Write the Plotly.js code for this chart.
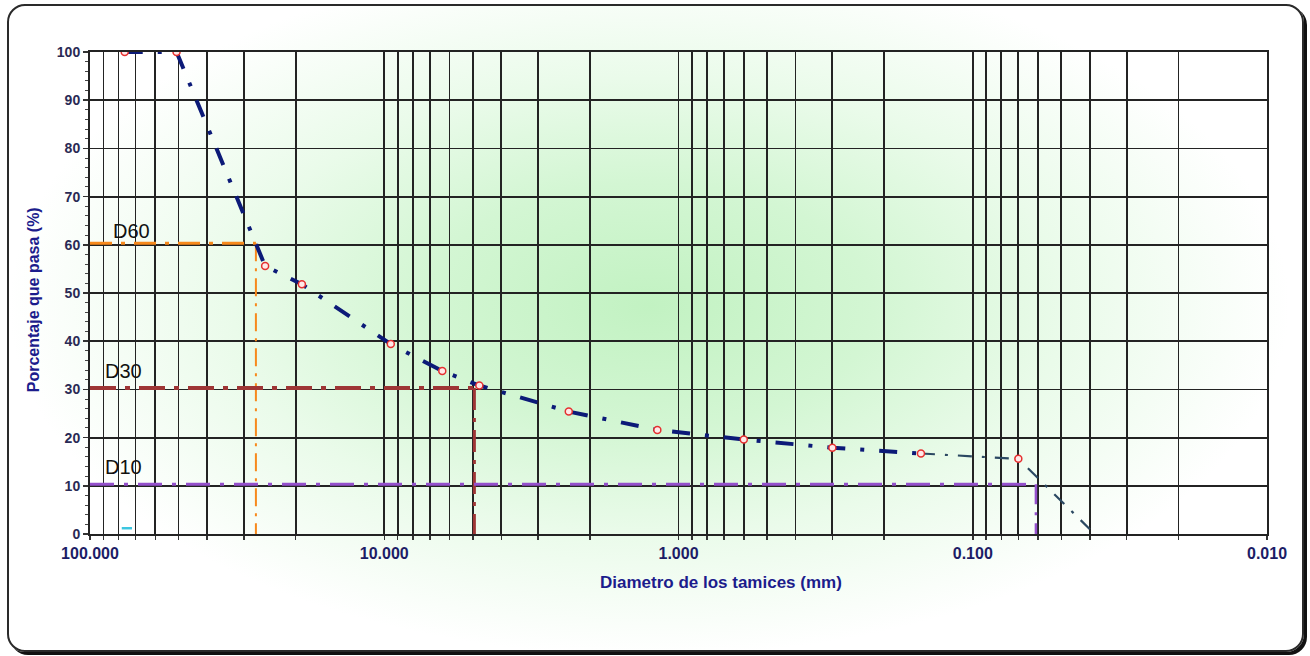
<!DOCTYPE html>
<html>
<head>
<meta charset="utf-8">
<script src="https://cdn.plot.ly/plotly-3.0.1.min.js"></script>
<style>
  html, body { margin: 0; padding: 0; width: 1310px; height: 656px; background: #ffffff; overflow: hidden; }
  #frame {
    position: absolute; left: 7px; top: 4px; width: 1293px; height: 644px;
    border: 2px solid #2a2a2a; border-radius: 18px;
    box-shadow: 3px 3px 0 #111;
    background: radial-gradient(ellipse 640px 350px at 640px 300px, #c2f2c2 0%, #d3f6d3 35%, #eafbea 65%, #ffffff 100%);
  }
  #chart { position: absolute; left: 0; top: 0; width: 1310px; height: 656px; }
</style>
</head>
<body>
<div id="frame"></div>
<div id="chart"></div>
<script>
// Sieve analysis (granulometric curve)
const sieveMm   = [76.2, 50.8, 25.4, 19.05, 9.5, 6.35, 4.75, 2.36, 1.18, 0.6, 0.3, 0.15];
const passing   = [100, 100, 55.6, 51.8, 39.4, 33.8, 30.8, 25.4, 21.6, 19.6, 17.9, 16.7];
const tailMm    = [0.15, 0.07, 0.04];
const tailPass  = [16.7, 15.6, 1.0];
const markerMm  = [76.2, 50.8, 25.4, 19.05, 9.5, 6.35, 4.75, 2.36, 1.18, 0.6, 0.3, 0.15, 0.07];
const markerPass= [100, 100, 55.6, 51.8, 39.4, 33.8, 30.8, 25.4, 21.6, 19.6, 17.9, 16.7, 15.6];

const dLabels   = ["D60", "D30", "D10"];
const dPercent  = [60.3, 30.3, 10.3];
const dDiameter = [27.3, 4.94, 0.061];
const dColors   = ["#f7891c", "#9e3535", "#9450cc"];

const cyanMm    = [78, 72];
const cyanPass  = [1.2, 1.2];

const decadeVals   = [100, 10, 1, 0.1, 0.01];
const decadeLabels = ["100.000", "10.000", "1.000", "0.100", "0.010"];
const minorMult    = [2, 3, 4, 5, 6, 7, 8, 9];

// tick/grid positions: every decade plus its 2..9 multiples
const tickVals = [], tickText = [];
decadeVals.forEach((v, i) => {
  tickVals.push(v); tickText.push(decadeLabels[i]);
  if (v < 100) minorMult.forEach(m => { tickVals.push(v * m); tickText.push(""); });
});

const traces = [];
const xLeft = 100;
const hDash = ["22px,9px,4px,9px", "26px,9px,5px,9px", "24px,10px,4px,10px"];
const vDash = ["18px,7px,3px,7px", "22px,8px,4px,8px", "20px,8px,3px,8px"];
const hW = [3, 4, 3];
const vW = [2, 3, 2.5];
for (let i = 0; i < dLabels.length; i++) {
  traces.push({ x: [xLeft, dDiameter[i]], y: [dPercent[i], dPercent[i]], mode: "lines",
    line: { color: dColors[i], width: hW[i], dash: hDash[i] }, hoverinfo: "skip", showlegend: false });
  traces.push({ x: [dDiameter[i], dDiameter[i]], y: [dPercent[i], 0], mode: "lines",
    line: { color: dColors[i], width: vW[i], dash: vDash[i] }, hoverinfo: "skip", showlegend: false });
}
traces.push({ x: cyanMm, y: cyanPass, mode: "lines", line: { color: "#3cc6e0", width: 2.5 }, showlegend: false });
traces.push({ x: tailMm, y: tailPass, mode: "lines",
  line: { color: "#2b4862", width: 2.2, dash: "14px,10px,3px,10px" }, showlegend: false });
traces.push({ x: sieveMm, y: passing, mode: "lines",
  line: { color: "#0c1a78", width: 4, dash: "18px,15px,4px,15px" }, showlegend: false });
traces.push({ x: markerMm, y: markerPass, mode: "markers",
  marker: { symbol: "circle", size: 7, color: "#ffe8e8", line: { color: "#e53030", width: 1.5 } },
  showlegend: false });

const navy = "#1c1c66";
const annotations = dLabels.map((t, i) => ({
  text: t, xref: "x", yref: "y",
  x: Math.log10([72.5, 77, 77][i]), y: [62.8, 33.8, 13.9][i],
  showarrow: false, font: { family: "Arial, Liberation Sans, sans-serif", size: 20, color: "#111" }
}));
annotations.push({
  text: "Porcentaje que pasa (%)", xref: "paper", yref: "paper", x: -0.0484, y: 0.485,
  xanchor: "center", yanchor: "middle",
  textangle: -90, showarrow: false,
  font: { family: "Arial, Liberation Sans, sans-serif", size: 16, color: "#1c1c8c", weight: 700 }
});
annotations.push({
  text: "Diametro de los tamices (mm)", xref: "paper", yref: "paper", x: 0.536, y: -0.0996,
  xanchor: "center", yanchor: "middle",
  showarrow: false,
  font: { family: "Arial, Liberation Sans, sans-serif", size: 17, color: "#1c1c8c", weight: 700 }
});

const layout = {
  width: 1310, height: 656,
  margin: { l: 90, r: 43, t: 52, b: 122 },
  paper_bgcolor: "rgba(0,0,0,0)", plot_bgcolor: "rgba(0,0,0,0)",
  showlegend: false,
  xaxis: {
    type: "log", range: [2, -2], tickvals: tickVals, ticktext: tickText,
    showgrid: true, gridcolor: "#232323", gridwidth: 1.8,
    showline: true, linecolor: "#232323", linewidth: 2, mirror: true,
    ticks: "outside", ticklen: 4, tickwidth: 1.5, tickcolor: "#333",
    tickfont: { family: "Arial, Liberation Sans, sans-serif", size: 16, color: navy, weight: 700 },
    zeroline: false
  },
  yaxis: {
    range: [0, 100], dtick: 10, tick0: 0,
    showgrid: true, gridcolor: "#232323", gridwidth: 1.8,
    showline: true, linecolor: "#232323", linewidth: 2, mirror: true,
    ticks: "outside", ticklen: 5, tickwidth: 1.5, tickcolor: "#333",
    minor: { dtick: 2, ticks: "outside", ticklen: 3, tickwidth: 1, tickcolor: "#444", showgrid: false },
    tickfont: { family: "Arial, Liberation Sans, sans-serif", size: 14, color: "#2a2a55", weight: 700 },
    zeroline: false
  },
  annotations: annotations
};

Plotly.newPlot("chart", traces, layout, { staticPlot: true, displayModeBar: false });
</script>
</body>
</html>
